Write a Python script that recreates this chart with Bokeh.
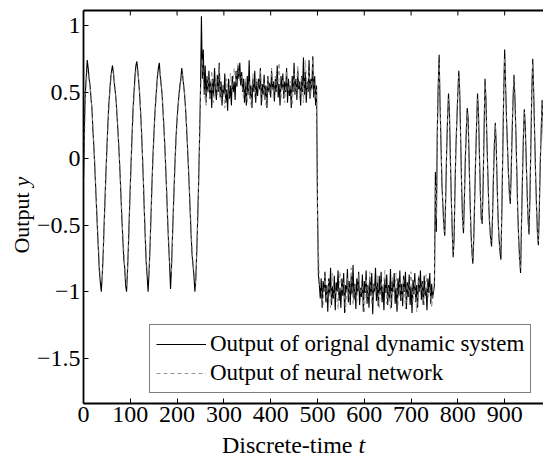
import math
from bokeh.plotting import figure
from bokeh.models import (Range1d, FixedTicker, CustomJSTickFormatter, Legend, LegendItem,
                          Label)
from bokeh.embed import file_html
from bokeh.resources import INLINE

# ---------------- data ----------------
# original dynamic system output, sampled every 2 steps, per segment
orig_a_start = 0
orig_a = [-0.15, 0.25, 0.5, 0.62, 0.74, 0.68, 0.6, 0.55, 0.45, 0.38, 0.22, 0.1, -0.05, -0.22,
          -0.38, -0.55, -0.7, -0.85, -0.93, -1.0, -0.88, -0.72, -0.5, -0.3, -0.1, 0.08, 0.25,
          0.4, 0.5, 0.6, 0.66, 0.7, 0.64, 0.56, 0.5, 0.42, 0.3, 0.18, 0.05, -0.1, -0.28, -0.45,
          -0.6, -0.75, -0.82, -0.95, -1.0, -0.85, -0.65, -0.42, -0.2, 0.0, 0.2, 0.38, 0.5, 0.62,
          0.7, 0.73, 0.66, 0.58, 0.48, 0.35, 0.2, 0.02, -0.18, -0.4, -0.6, -0.78, -0.88, -1.0,
          -0.86, -0.68, -0.45, -0.22, -0.02, 0.15, 0.3, 0.42, 0.52, 0.62, 0.68, 0.72, 0.62, 0.55,
          0.48, 0.35, 0.22, 0.08, -0.1, -0.28, -0.48, -0.65, -0.8, -0.98, -0.82, -0.6, -0.38,
          -0.18, 0.02, 0.18, 0.3, 0.4, 0.48, 0.55, 0.6, 0.68, 0.62, 0.55, 0.48, 0.38, 0.25, 0.1,
          -0.05, -0.22, -0.4, -0.58, -0.72, -0.8, -0.88, -1.0, -0.9, -0.7, -0.45, -0.18, 0.15]
orig_b_start = 250
orig_b = [0.52, 1.07, 0.6, 0.82, 0.48, 0.7, 0.42, 0.62, 0.5, 0.66, 0.45, 0.58, 0.38, 0.6, 0.47,
          0.68, 0.52, 0.44, 0.63, 0.5, 0.72, 0.46, 0.58, 0.4, 0.55, 0.48, 0.64, 0.42, 0.52, 0.36,
          0.6, 0.45, 0.55, 0.4, 0.62, 0.5, 0.58, 0.44, 0.66, 0.54, 0.7, 0.6, 0.72, 0.55, 0.65,
          0.5, 0.6, 0.42, 0.58, 0.4, 0.62, 0.48, 0.74, 0.45, 0.55, 0.38, 0.6, 0.5, 0.66, 0.42,
          0.58, 0.47, 0.6, 0.52, 0.68, 0.4, 0.56, 0.48, 0.63, 0.44, 0.55, 0.38, 0.62, 0.5, 0.57,
          0.46, 0.66, 0.52, 0.58, 0.43, 0.6, 0.5, 0.7, 0.46, 0.56, 0.4, 0.62, 0.52, 0.64, 0.45,
          0.58, 0.5, 0.68, 0.42, 0.6, 0.47, 0.55, 0.38, 0.62, 0.5, 0.72, 0.48, 0.6, 0.44, 0.66,
          0.52, 0.58, 0.4, 0.62, 0.5, 0.76, 0.48, 0.65, 0.42, 0.58, 0.5, 0.74, 0.45, 0.6, 0.52,
          0.77, 0.46, 0.62, 0.4, 0.55]
orig_c_start = 500
orig_c = [-0.35, -0.88, -0.95, -1.05, -0.9, -1.12, -0.92, -1.0, -0.85, -1.08, -0.95, -1.15, -0.9,
          -1.02, -0.82, -1.1, -0.96, -1.05, -0.88, -1.14, -0.93, -1.0, -0.84, -1.07, -0.97, -1.12,
          -0.9, -1.03, -0.86, -1.16, -0.95, -1.0, -0.83, -1.08, -0.92, -1.1, -0.88, -1.02, -0.8,
          -1.06, -0.94, -1.13, -0.9, -1.0, -0.85, -1.1, -0.97, -1.04, -0.87, -1.15, -0.92, -1.01,
          -0.84, -1.09, -0.95, -1.12, -0.89, -1.03, -0.86, -1.17, -0.94, -1.0, -0.82, -1.07, -0.93,
          -1.11, -0.88, -1.02, -0.85, -1.08, -0.96, -1.14, -0.9, -1.01, -0.87, -1.1, -0.95, -1.05,
          -0.83, -1.12, -0.92, -1.0, -0.86, -1.09, -0.97, -1.15, -0.9, -1.03, -0.84, -1.07, -0.94,
          -1.11, -0.88, -1.0, -0.85, -1.13, -0.93, -1.04, -0.87, -1.1, -0.96, -1.16, -0.91, -1.02,
          -0.86, -1.08, -0.95, -1.12, -0.89, -1.0, -0.84, -1.06, -0.92, -1.1, -0.88, -1.03, -0.97,
          -1.14, -0.9, -1.01, -0.86, -1.09, -0.94, -1.05, -1.0]
orig_d_start = 750
orig_d = [-0.95, -0.1, -0.55, 0.2, 0.55, 0.78, 0.4, 0.1, -0.2, -0.35, -0.5, -0.58, -0.3, 0.05,
          0.3, 0.49, 0.35, 0.0, -0.3, -0.55, -0.74, -0.6, -0.2, 0.1, 0.3, 0.5, 0.66, 0.5, 0.15,
          -0.2, -0.45, -0.56, -0.3, 0.0, 0.2, 0.38, 0.3, 0.0, -0.3, -0.55, -0.7, -0.79, -0.6, -0.3,
          0.0, 0.25, 0.49, 0.35, 0.05, -0.25, -0.45, -0.49, -0.2, 0.2, 0.6, 0.45, 0.15, -0.1,
          -0.35, -0.5, -0.6, -0.66, -0.45, -0.15, 0.1, 0.27, 0.1, -0.2, -0.45, -0.6, -0.7, -0.76,
          -0.4, 0.05, 0.5, 0.82, 0.55, 0.3, 0.1, -0.1, -0.25, -0.34, -0.1, 0.2, 0.45, 0.63, 0.45,
          0.2, -0.1, -0.4, -0.6, -0.75, -0.86, -0.5, -0.15, 0.15, 0.37, 0.25, 0.0, -0.25, -0.45,
          -0.57, -0.3, 0.1, 0.5, 0.75, 0.5, 0.2, -0.1, -0.35, -0.55, -0.65, -0.4, -0.05, 0.2, 0.44,
          0.3, 0.0, -0.3, -0.5, -0.6, -0.4, 0.0, 0.3, 0.5]
orig_step = 2

# neural network output
nn_a_start = 0
nn_a = [-0.2, 0.45, 0.66, 0.62, 0.48, 0.25, -0.02, -0.35, -0.66, -0.9, -0.92, -0.55, -0.14, 0.22,
        0.48, 0.64, 0.66, 0.52, 0.33, 0.08, -0.25, -0.57, -0.8, -0.96, -0.7, -0.24, 0.16, 0.47,
        0.66, 0.68, 0.5, 0.24, -0.15, -0.56, -0.85, -0.9, -0.5, -0.06, 0.27, 0.5, 0.66, 0.65,
        0.5, 0.25, -0.06, -0.44, -0.77, -0.86, -0.42, -0.02, 0.27, 0.46, 0.58, 0.64, 0.5, 0.28,
        -0.02, -0.36, -0.68, -0.85, -0.94, -0.5, 0.1]
nn_a_step = 4
nn_b_start = 250
nn_b = [0.5, 0.75, 0.5, 0.4, 0.62, 0.45, 0.66, 0.42, 0.58, 0.48, 0.7, 0.44, 0.56, 0.38, 0.6, 0.46,
        0.64, 0.5, 0.68, 0.56, 0.72, 0.58, 0.62, 0.45, 0.6, 0.42, 0.58, 0.4, 0.64, 0.46, 0.6, 0.5,
        0.66, 0.43, 0.57, 0.4, 0.6, 0.48, 0.68, 0.44, 0.62, 0.5, 0.72, 0.45, 0.6, 0.42, 0.66, 0.5,
        0.58, 0.4, 0.64, 0.48, 0.7, 0.45, 0.62, 0.42, 0.74, 0.5, 0.66, 0.48, 0.75, 0.44, 0.52]
nn_b_step = 4
nn_c_start = 500
nn_c = [-0.4, -0.93, -0.98, -1.1, -0.88, -1.06, -0.92, -1.12, -0.86, -1.04, -0.98, -1.13, -0.85,
        -1.0, -0.93, -1.15, -0.9, -1.05, -0.82, -1.1, -0.95, -1.08, -0.87, -1.02, -0.96, -1.16,
        -0.9, -1.04, -0.85, -1.1, -0.94, -1.03, -0.88, -1.12, -0.92, -1.0, -0.84, -1.09, -0.97,
        -1.14, -0.89, -1.03, -0.86, -1.1, -0.93, -1.06, -0.9, -1.13, -0.95, -1.02, -0.85, -1.08,
        -0.92, -1.15, -0.88, -1.01, -0.94, -1.1, -0.87, -1.05, -0.96, -1.12, -0.98]
nn_c_step = 4
nn_d_start = 750
nn_d = [-0.9, -0.2, -0.45, 0.15, 0.5, 0.72, 0.45, 0.12, -0.15, -0.38, -0.52, -0.55, -0.25, 0.08,
        0.32, 0.45, 0.3, -0.05, -0.32, -0.58, -0.7, -0.55, -0.15, 0.12, 0.34, 0.52, 0.62, 0.45,
        0.1, -0.22, -0.48, -0.52, -0.25, 0.05, 0.24, 0.35, 0.26, -0.05, -0.33, -0.56, -0.72,
        -0.75, -0.55, -0.25, 0.05, 0.28, 0.45, 0.3, 0.0, -0.28, -0.48, -0.46, -0.15, 0.25, 0.56,
        0.42, 0.1, -0.14, -0.38, -0.52, -0.62, -0.62, -0.4, -0.1, 0.14, 0.25, 0.06, -0.24, -0.48,
        -0.62, -0.72, -0.72, -0.35, 0.1, 0.52, 0.76, 0.5, 0.26, 0.06, -0.14, -0.28, -0.3, -0.05,
        0.24, 0.48, 0.6, 0.4, 0.15, -0.14, -0.44, -0.62, -0.78, -0.82, -0.45, -0.1, 0.18, 0.35,
        0.2, -0.04, -0.28, -0.48, -0.53, -0.25, 0.14, 0.52, 0.72, 0.46, 0.15, -0.14, -0.38,
        -0.57, -0.62, -0.35, 0.0, 0.24, 0.42, 0.26, -0.04, -0.33, -0.52, -0.58, -0.35, 0.04,
        0.33, 0.48]
nn_d_step = 2

x_ticks = [0, 100, 200, 300, 400, 500, 600, 700, 800, 900]
y_ticks = [-1.5, -1, -0.5, 0, 0.5, 1]
legend_labels = ["Output of orignal dynamic system", "Output of neural network"]
x_label_main, x_label_var = "Discrete-time", "t"
y_label_main, y_label_var = "Output", "y"


def series(parts):
    xs, ys = [], []
    for start, step, vals in parts:
        xs += [start + step * i for i in range(len(vals))]
        ys += vals
    return xs, ys


ox, oy = series([(orig_a_start, orig_step, orig_a), (orig_b_start, orig_step, orig_b),
                 (orig_c_start, orig_step, orig_c), (orig_d_start, orig_step, orig_d)])
nx, ny = series([(nn_a_start, nn_a_step, nn_a), (nn_b_start, nn_b_step, nn_b),
                 (nn_c_start, nn_c_step, nn_c), (nn_d_start, nn_d_step, nn_d)])

FONT = "Liberation Serif"
W, H = 543, 457
# axes box (pixels) and its data limits
BOX_L, BOX_R, BOX_T, BOX_B = 83, 543, 10, 403
X0, X1 = 0, 983
Y0, Y1 = -1.84, 1.113
sx = (BOX_R - BOX_L) / (X1 - X0)
sy = (BOX_B - BOX_T) / (Y1 - Y0)


def px_to_x(px):
    return X0 + (px - BOX_L) / sx


def py_to_y(py):
    return Y1 - (py - BOX_T) / sy


p = figure(width=W, height=H, output_backend="svg", toolbar_location=None,
           x_range=Range1d(px_to_x(0), px_to_x(W)), y_range=Range1d(py_to_y(H), py_to_y(0)),
           min_border=0)
p.outline_line_color = None
p.xgrid.visible = False
p.ygrid.visible = False
p.background_fill_color = "white"
p.border_fill_color = "white"

r_orig = p.line(ox, oy, line_color="black", line_width=1.1)
r_nn = p.line(nx, ny, line_color="#8c8c8c", line_width=1, line_dash="4 3", line_alpha=0.9)

for ax in (p.xaxis[0], p.yaxis[0]):
    ax.axis_line_color = "black"
    ax.axis_line_width = 1.8
    ax.major_tick_in = 5
    ax.major_tick_out = 0
    ax.major_tick_line_width = 1
    ax.minor_tick_line_color = None
    ax.major_label_text_font = FONT
    ax.major_label_text_font_size = "24px"
    ax.major_label_text_color = "black"

p.xaxis[0].ticker = FixedTicker(ticks=x_ticks)
p.xaxis[0].major_label_standoff = 3
p.xaxis[0].fixed_location = Y0
p.xaxis[0].bounds = (X0, X1)
p.yaxis[0].ticker = FixedTicker(ticks=y_ticks)
p.yaxis[0].formatter = CustomJSTickFormatter(
    code="return (tick < 0 ? '\\u2212' : '') + Math.abs(tick).toString();")
p.yaxis[0].major_label_standoff = 3
p.yaxis[0].fixed_location = X0
p.yaxis[0].bounds = (Y0, Y1)

# top frame line with inward ticks
p.segment(x0=[X0], x1=[X1], y0=[Y1], y1=[Y1], line_color="black", line_width=1.8)
tick_len = 5 / sy
p.segment(x0=x_ticks, x1=x_ticks, y0=[Y1] * len(x_ticks), y1=[Y1 - tick_len] * len(x_ticks),
          line_color="black", line_width=1)

# axis titles (normal text + italic variable)
XL_BASE = 444
p.add_layout(Label(x=px_to_x(352), y=py_to_y(XL_BASE), text=x_label_main, text_align="right",
                   text_baseline="alphabetic", text_font=FONT, text_font_size="24px",
                   text_color="black"))
p.add_layout(Label(x=px_to_x(358), y=py_to_y(XL_BASE), text=x_label_var, text_align="left",
                   text_baseline="alphabetic", text_font=FONT, text_font_size="24px",
                   text_font_style="italic", text_color="black"))
YL_BASE = 21
p.add_layout(Label(x=px_to_x(YL_BASE), y=py_to_y(192), text=y_label_main, text_align="right",
                   text_baseline="alphabetic", angle=math.pi / 2, text_font=FONT,
                   text_font_size="22px", text_color="black"))
p.add_layout(Label(x=px_to_x(YL_BASE), y=py_to_y(186), text=y_label_var, text_align="left",
                   text_baseline="alphabetic", angle=math.pi / 2, text_font=FONT,
                   text_font_size="22px", text_font_style="italic", text_color="black"))

legend = Legend(items=[LegendItem(label=legend_labels[0], renderers=[r_orig]),
                       LegendItem(label=legend_labels[1], renderers=[r_nn])],
                location=(149, H - 393))
legend.label_text_font = FONT
legend.label_text_font_size = "23px"
legend.label_text_color = "black"
legend.glyph_width = 50
legend.glyph_height = 22
legend.label_height = 22
legend.label_standoff = 4
legend.spacing = 3
legend.padding = 6
legend.margin = 0
legend.border_line_color = "black"
legend.border_line_width = 1.8
legend.background_fill_color = "white"
legend.background_fill_alpha = 1
p.add_layout(legend, "center")

open("out.html", "w").write(file_html(p, INLINE))
